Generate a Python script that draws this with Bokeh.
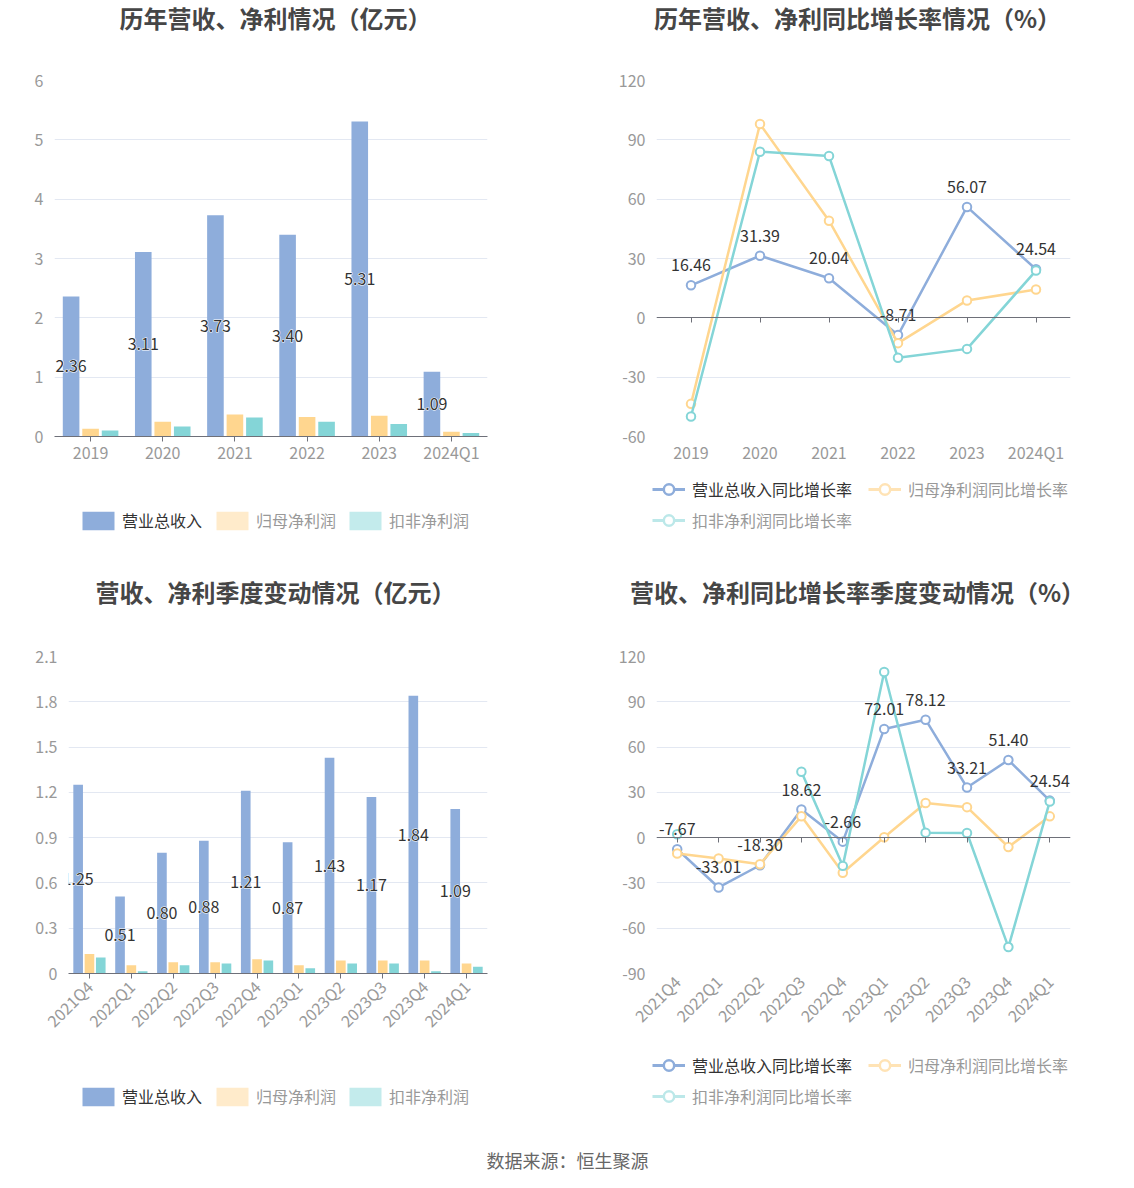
import math
from bokeh.plotting import figure
from bokeh.layouts import column, row
from bokeh.models import (ColumnDataSource, FixedTicker, Range1d, FactorRange, CategoricalAxis,
                          Legend, LegendItem, Label, CustomJSTickFormatter)
from bokeh.transform import dodge
from bokeh.core.properties import value
from bokeh.embed import file_html
from bokeh.resources import INLINE

FONT = "Noto Sans CJK SC"
BLUE = "#8EADDB"
ORANGE = "#FFD68F"
CYAN = "#84D5D7"
ORANGE_LIGHT = "#FFEBCB"
CYAN_LIGHT = "#C3EBEC"
AXIS = "#6E7079"
GRID = "#E3E8F2"
TICKLBL = "#999999"

# ---------------- data ----------------
annual_periods = ["2019", "2020", "2021", "2022", "2023", "2024Q1"]
annual_revenue = [2.36, 3.11, 3.73, 3.40, 5.31, 1.09]
annual_net_profit = [0.13, 0.25, 0.37, 0.33, 0.35, 0.08]
annual_deducted_profit = [0.10, 0.17, 0.32, 0.25, 0.21, 0.06]

annual_revenue_yoy = [16.46, 31.39, 20.04, -8.71, 56.07, 24.54]
annual_net_profit_yoy = [-43.5, 98.0, 49.1, -12.8, 8.8, 14.3]
annual_deducted_yoy = [-49.9, 84.0, 81.8, -20.2, -15.7, 23.9]

quarters = ["2021Q4", "2022Q1", "2022Q2", "2022Q3", "2022Q4",
            "2023Q1", "2023Q2", "2023Q3", "2023Q4", "2024Q1"]
quarter_revenue = [1.25, 0.51, 0.80, 0.88, 1.21, 0.87, 1.43, 1.17, 1.84, 1.09]
quarter_net_profit = [0.13, 0.055, 0.075, 0.075, 0.095, 0.055, 0.086, 0.086, 0.086, 0.066]
quarter_deducted_profit = [0.106, 0.015, 0.055, 0.066, 0.086, 0.035, 0.066, 0.066, 0.015, 0.044]

quarter_revenue_yoy = [-7.67, -33.01, -18.30, 18.62, -2.66, 72.01, 78.12, 33.21, 51.40, 24.54]
quarter_net_profit_yoy = [-10.5, -13.8, -17.6, 14.1, -23.3, 0.3, 22.9, 20.2, -6.2, 14.1]
quarter_deducted_yoy = [2.2, float("nan"), float("nan"), 43.7, -18.7, 109.7, 3.3, 3.1, -72.5, 24.0]

annual_amount_ticks = [0, 1, 2, 3, 4, 5, 6]
annual_growth_ticks = [-60, -30, 0, 30, 60, 90, 120]
quarter_amount_ticks = [0, 0.3, 0.6, 0.9, 1.2, 1.5, 1.8, 2.1]
quarter_growth_ticks = [-90, -60, -30, 0, 30, 60, 90, 120]

series_names = ["营业总收入", "归母净利润", "扣非净利润"]
growth_names = ["营业总收入同比增长率", "归母净利润同比增长率", "扣非净利润同比增长率"]
titles = ["历年营收、净利情况（亿元）", "历年营收、净利同比增长率情况（%）",
          "营收、净利季度变动情况（亿元）", "营收、净利同比增长率季度变动情况（%）"]
source_note = "数据来源：恒生聚源"

TOTAL_W = 1130
OFF = -1000  # legend-only dummy glyphs sit far outside the visible range


def blank_fig(w, h):
    f = figure(width=w, height=h, x_range=Range1d(0, w), y_range=Range1d(0, h),
               min_border=0, output_backend="svg", toolbar_location=None, tools="")
    f.axis.visible = False
    f.grid.visible = False
    f.outline_line_color = None
    f.background_fill_color = "white"
    f.border_fill_color = "white"
    return f


def header(h, texts_x, texts, ty):
    f = blank_fig(TOTAL_W, h)
    for tx, t in zip(texts_x, texts):
        f.add_layout(Label(x=tx, y=ty, text=t, text_align="center", text_baseline="middle",
                           text_font=FONT, text_font_size="24px", text_font_style="bold",
                           text_color="#464646"))
    return f


def chart_fig(factors, ticks, fw, fh, left, right, top, bottom):
    p = figure(x_range=FactorRange(*factors), y_range=Range1d(ticks[0], ticks[-1]),
               frame_width=fw, frame_height=fh,
               min_border_left=left, min_border_right=right,
               min_border_top=top, min_border_bottom=bottom,
               output_backend="svg", toolbar_location=None, tools="")
    p.outline_line_color = None
    p.background_fill_color = "white"
    p.border_fill_color = "white"
    p.xgrid.visible = False
    p.ygrid.grid_line_color = GRID
    p.ygrid.grid_line_width = 1
    yax = p.yaxis[0]
    yax.ticker = FixedTicker(ticks=ticks)
    yax.formatter = CustomJSTickFormatter(code="return String(tick)")
    yax.axis_line_color = None
    yax.major_tick_line_color = None
    yax.major_tick_out = 0
    yax.major_tick_in = 0
    yax.minor_tick_line_color = None
    yax.major_label_text_color = TICKLBL
    yax.major_label_text_font = FONT
    yax.major_label_text_font_size = "16px"
    yax.major_label_standoff = 11
    xax = p.xaxis[0]
    xax.major_label_text_color = TICKLBL
    xax.major_label_text_font = FONT
    xax.major_label_text_font_size = "16px"
    xax.minor_tick_line_color = None
    return p


def bar_chart(factors, rev, npf, dpf, ticks, fw, fh, left, right, top, bottom, rotate):
    p = chart_fig(factors, ticks, fw, fh, left, right, top, bottom)
    xax = p.xaxis[0]
    xax.axis_line_color = AXIS
    xax.major_tick_line_color = AXIS
    xax.major_tick_out = 5
    xax.major_tick_in = 0
    xax.major_label_standoff = -2
    if rotate:
        xax.major_label_orientation = math.pi / 4
        xax.major_label_standoff = 5
    src = ColumnDataSource(dict(cat=factors, rev=rev, npf=npf, dpf=dpf,
                                mid=[v / 2 for v in rev],
                                lbl=[f"{v:.2f}" for v in rev]))
    p.vbar(x=dodge("cat", -0.27, range=p.x_range), top="rev", width=0.23, source=src,
           fill_color=BLUE, line_color=None)
    p.vbar(x=dodge("cat", 0.0, range=p.x_range), top="npf", width=0.23, source=src,
           fill_color=ORANGE, line_color=None)
    p.vbar(x=dodge("cat", 0.27, range=p.x_range), top="dpf", width=0.23, source=src,
           fill_color=CYAN, line_color=None)
    # white halo, then dark label text
    p.text(x=dodge("cat", -0.27, range=p.x_range), y="mid", text="lbl", source=src,
           text_align="center", text_baseline="middle", text_font=value(FONT),
           text_font_size="16px", text_color="white", text_outline_color="white")
    p.text(x=dodge("cat", -0.27, range=p.x_range), y="mid", text="lbl", source=src,
           text_align="center", text_baseline="middle", text_font=value(FONT),
           text_font_size="16px", text_color="#333333")
    return p


def line_chart(factors, s1, s2, s3, ticks, fw, fh, left, right, top, bottom, rotate):
    p = chart_fig(factors, ticks, fw, fh, left, right, top, bottom)
    xax = p.xaxis[0]
    xax.axis_line_color = None
    xax.major_tick_line_color = None
    xax.major_tick_out = 0
    xax.major_tick_in = 0
    xax.major_label_standoff = 3
    if rotate:
        xax.major_label_orientation = math.pi / 4
        xax.major_label_standoff = 5
    zax = CategoricalAxis(fixed_location=0, axis_line_color=AXIS, major_tick_line_color=AXIS,
                          major_tick_out=5, major_tick_in=0, minor_tick_line_color=None,
                          major_label_text_color=None, major_label_text_font_size="1px",
                          major_label_standoff=0, axis_line_width=1.2)
    p.add_layout(zax, "below")
    src = ColumnDataSource(dict(cat=factors, a=s1, b=s2, c=s3,
                                lbl=[f"{v:.2f}" for v in s1]))
    for col, c in (("a", BLUE), ("b", ORANGE), ("c", CYAN)):
        p.line(x="cat", y=col, source=src, line_color=c, line_width=2.5)
        p.scatter(x="cat", y=col, source=src, marker="circle", size=8.5,
                  fill_color="white", line_color=c, line_width=2)
    p.text(x="cat", y="a", text="lbl", source=src, text_align="center",
           text_baseline="bottom", y_offset=-14, text_font=value(FONT),
           text_font_size="16px", text_color="#333333")
    return p


def add_legend(f, label, renderers, x, y, color, gw, gh, standoff):
    lg = Legend(items=[LegendItem(label=label, renderers=renderers)], location=(x, y),
                orientation="horizontal", padding=0, margin=0, spacing=0,
                border_line_color=None, background_fill_alpha=0,
                label_text_color=color, label_text_font=FONT, label_text_font_size="16px",
                glyph_width=gw, glyph_height=gh, label_standoff=standoff, label_height=gh)
    f.add_layout(lg)


def legend_row(h, bar_xs, bar_y, line_pos):
    f = blank_fig(TOTAL_W, h)
    tcolors = ["#333333", TICKLBL, TICKLBL]
    bar_colors = [BLUE, ORANGE_LIGHT, CYAN_LIGHT]
    for name, c, tc, lx in zip(series_names, bar_colors, tcolors, bar_xs):
        r = f.vbar(x=[OFF], top=[OFF], width=1, fill_color=c, line_color=None)
        add_legend(f, name, [r], lx, bar_y, tc, 40, 23, 4)
    line_colors = [BLUE, "#FFE3B5", "#BCE8E9"]
    for name, c, tc, (lx, ly) in zip(growth_names, line_colors, tcolors, line_pos):
        r1 = f.line(x=[OFF, OFF + 1], y=[OFF, OFF], line_color=c, line_width=3)
        r2 = f.scatter(x=[OFF], y=[OFF], marker="circle", size=8, fill_color="white",
                       line_color=c, line_width=2.5)
        add_legend(f, name, [r1, r2], lx, ly, tc, 33, 26, 7)
    return f


head1 = header(40, [275, 857], titles[:2], 23.5)
p1 = bar_chart(annual_periods, annual_revenue, annual_net_profit, annual_deducted_profit,
               annual_amount_ticks, 433, 356, 54, 80, 40, 38, False)
p2 = line_chart(annual_periods, annual_revenue_yoy, annual_net_profit_yoy,
                annual_deducted_yoy, annual_growth_ticks, 414, 356, 89, 60, 40, 38, False)
leg1 = legend_row(101, [78, 212, 345], 43, [(652, 73), (868, 73), (652, 42)])

head2 = header(40, [275, 857], titles[2:], 24)
p3 = bar_chart(quarters, quarter_revenue, quarter_net_profit, quarter_deducted_profit,
               quarter_amount_ticks, 419, 317, 68, 80, 41, 71, True)
p4 = line_chart(quarters, quarter_revenue_yoy, quarter_net_profit_yoy,
                quarter_deducted_yoy, quarter_growth_ticks, 414, 317, 89, 60, 41, 71, True)
leg2 = legend_row(86, [78, 212, 345], 22, [(652, 52), (868, 52), (652, 21)])

foot = blank_fig(TOTAL_W, 50)
foot.add_layout(Label(x=567, y=21, text=source_note, text_align="center",
                      text_baseline="middle", text_font=FONT, text_font_size="18px",
                      text_color="#666666"))

layout = column(head1, row(p1, p2), leg1, head2, row(p3, p4), leg2, foot)
open("out.html", "w").write(file_html(layout, INLINE))
